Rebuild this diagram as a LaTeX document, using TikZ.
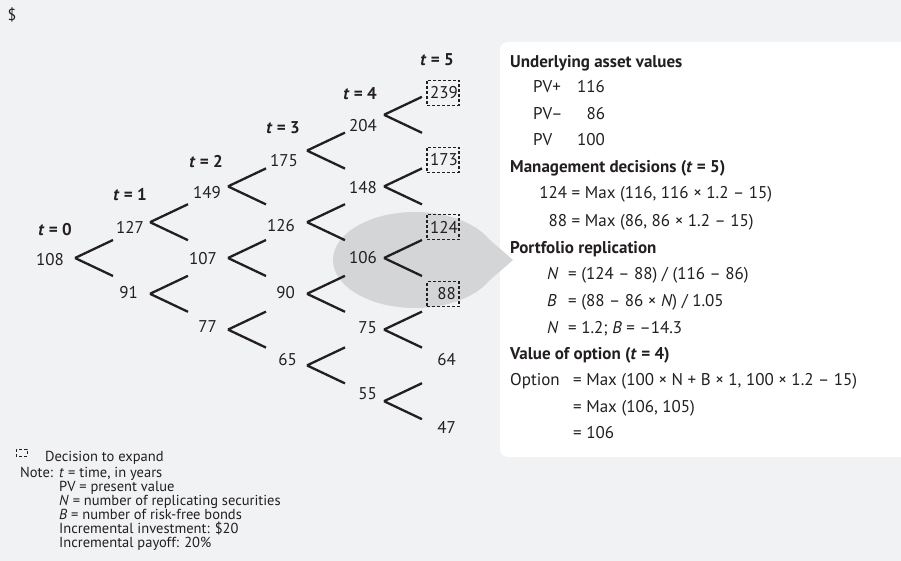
\documentclass[tikz,border=0pt]{standalone}
\usepackage{fontspec}
\setmainfont{PT Sans}
\usetikzlibrary{positioning}
\definecolor{bggray}{HTML}{F1F2F4}
\definecolor{bubble}{HTML}{D4D5D7}
\definecolor{ink}{HTML}{231F20}
\newcommand{\fork}[1]{\draw[branch] (#1) -- ++(38,-18) (#1) -- ++(38,18);}

\begin{document}
\begin{tikzpicture}[x=1pt,y=-1pt,
  branch/.style={draw=ink,line width=2.3pt},
  val/.style={font=\fontsize{17}{20}\selectfont,inner sep=0pt,anchor=east,text=ink},
  tlab/.style={font=\fontsize{17}{20}\selectfont\bfseries,inner sep=0pt,text=ink},
  term/.style={font=\fontsize{17}{20}\selectfont,text width=26pt,align=right,inner xsep=3pt,inner ysep=0pt,minimum height=25pt,text=ink},
  expbox/.style={term,draw=ink,line width=1.2pt,dash pattern=on 3pt off 2pt},
  txt/.style={font=\fontsize{17}{20}\selectfont,inner sep=0pt,anchor=base west,text=ink},
  hd/.style={txt,font=\fontsize{17}{20}\selectfont\bfseries},
  small/.style={font=\fontsize{14.5}{14}\selectfont,inner sep=0pt,anchor=base west,text=ink}]
\clip (0,0) rectangle (901,561);
\fill[bggray] (0,0) rectangle (901,561);
\fill[white,rounded corners=8pt] (500,42) rectangle (915,457);

% highlighted step
\fill[bubble] (415,260) ellipse [x radius=82pt, y radius=48pt];
\fill[bubble] (475,227) -- (513,260) -- (475,293) -- cycle;

\node[font=\fontsize{16}{18}\selectfont,text=ink] (cur) at (12,15) {\$};

% time labels
\node[tlab] (t0) at (55,230) {\textit{t} = 0};
\node[tlab] (t1) at (130,195) {\textit{t} = 1};
\node[tlab] (t2) at (206,162) {\textit{t} = 2};
\node[tlab] (t3) at (283,128) {\textit{t} = 3};
\node[tlab] (t4) at (360,94) {\textit{t} = 4};
\node[tlab] (t5) at (437,60) {\textit{t} = 5};

% asset values
\node[val] (n108) at (64,260) {108};
\node[val] (n127) at (144,227) {127};
\node[val] (n91) at (138,293) {91};
\node[val] (n149) at (221,193) {149};
\node[val] (n107) at (217,259) {107};
\node[val] (n77) at (217,327) {77};
\node[val] (n175) at (298,161) {175};
\node[val] (n126) at (295,226) {126};
\node[val] (n90) at (295,293) {90};
\node[val] (n65) at (297,360) {65};
\node[val] (n204) at (377,126) {204};
\node[val] (n148) at (377,188) {148};
\node[val] (n106) at (377,258) {106};
\node[val] (n75) at (377,328) {75};
\node[val] (n55) at (377,394) {55};
\node[expbox] (n239) at (443,93) {239};
\node[expbox] (n173) at (443,160) {173};
\node[expbox] (n124) at (443,227) {124};
\node[expbox] (n88) at (443,294) {88};
\node[term] (n64) at (443,360) {64};
\node[term] (n47) at (443,427) {47};

% forks
\coordinate (f108) at (75,258);
\coordinate (f127) at (150,222.2);
\coordinate (f91) at (150,293.8);
\coordinate (f149) at (228,186.4);
\coordinate (f107) at (228,258);
\coordinate (f77) at (228,329.6);
\coordinate (f175) at (307,150.6);
\coordinate (f126) at (307,222.2);
\coordinate (f90) at (307,293.8);
\coordinate (f65) at (307,365.4);
\coordinate (f204) at (384,114.8);
\coordinate (f148) at (384,186.4);
\coordinate (f106) at (384,258);
\coordinate (f75) at (384,329.6);
\coordinate (f55) at (384,401.2);
\fork{f108}
\fork{f127} \fork{f91}
\fork{f149} \fork{f107} \fork{f77}
\fork{f175} \fork{f126} \fork{f90} \fork{f65}
\fork{f204} \fork{f148} \fork{f106} \fork{f75} \fork{f55}

% panel
\node[hd] (hdA) at (510,68) {Underlying asset values};
\node[txt] (pvu) at (533,93) {\makebox[44pt][l]{PV+}116};
\node[txt] (pvd) at (533,120) {\makebox[44pt][l]{PV–}\makebox[28pt][r]{86}};
\node[txt] (pv) at (533,146) {\makebox[44pt][l]{PV}100};
\node[hd] (hdB) at (510,173) {Management decisions (\textit{t} = 5)};
\node[txt] (dec1) at (540,199) {\makebox[27pt][r]{124} = Max (116, 116 × 1.2 – 15)};
\node[txt] (dec2) at (540,226) {\makebox[27pt][r]{88} = Max (86, 86 × 1.2 – 15)};
\node[hd] (hdC) at (510,253) {Portfolio replication};
\node[txt] (repN) at (547,279) {\makebox[21pt][l]{\textit{N}}= (124 – 88) / (116 – 86)};
\node[txt] (repB) at (547,306) {\makebox[21pt][l]{\textit{B}}= (88 – 86 × \textit{N}) / 1.05};
\node[txt] (repNB) at (547,333) {\makebox[21pt][l]{\textit{N}}= 1.2; \textit{B} = –14.3};
\node[hd] (hdD) at (510,359) {Value of option (\textit{t} = 4)};
\node[txt] (opt1) at (510,385) {\makebox[63pt][l]{Option}= Max (100 × N + B × 1, 100 × 1.2 – 15)};
\node[txt] (opt2) at (573,412) {= Max (106, 105)};
\node[txt] (opt3) at (573,438) {= 106};

% legend
\draw[ink,line width=1pt,dash pattern=on 3pt off 2pt] (16,449) rectangle (27,456);
\node[small] (lgA) at (45,461) {Decision to expand};
\node[small] (lgB) at (20,477) {Note:};
\node[small] (lg1) at (59,477) {\textit{t} = time, in years};
\node[small] (lg2) at (59,491) {PV = present value};
\node[small] (lg3) at (59,505) {\textit{N} = number of replicating securities};
\node[small] (lg4) at (59,519) {\textit{B} = number of risk-free bonds};
\node[small] (lg5) at (59,533) {Incremental investment: \$20};
\node[small] (lg6) at (59,547) {Incremental payoff: 20\%};
\end{tikzpicture}
\end{document}
